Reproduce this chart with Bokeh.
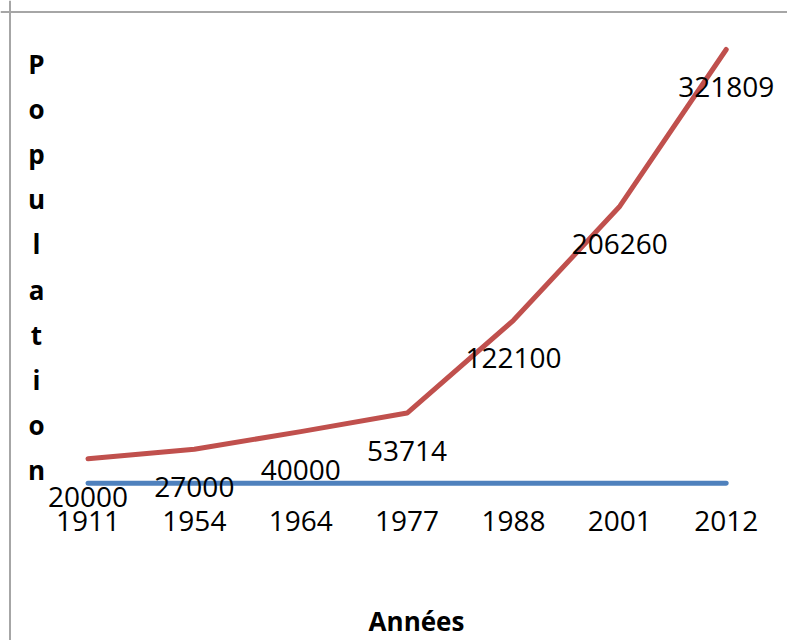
from bokeh.plotting import figure
from bokeh.models import Range1d, Span, ColumnDataSource
from bokeh.core.properties import value
from bokeh.embed import file_html
from bokeh.resources import INLINE

# ---- data ----
years = ["1911", "1954", "1964", "1977", "1988", "2001", "2012"]
year_values = [1911, 1954, 1964, 1977, 1988, 2001, 2012]
population = [20000, 27000, 40000, 53714, 122100, 206260, 321809]
x_title = "Années"
y_title = "Population"

# ---- layout helpers (pixel -> data) ----
W, H = 787, 640
X0_PX, STEP = 87.5, 106.37      # pixel of first category, px per category
Y0_PX, UPP = 485.4, 737.4       # pixel of value 0, data units per px

def px2x(px):
    return (px - X0_PX) / STEP

def py2y(py):
    return (Y0_PX - py) * UPP

p = figure(width=W, height=H, output_backend="svg", toolbar_location=None,
           x_axis_type=None, y_axis_type=None, min_border=0,
           x_range=Range1d(px2x(0), px2x(W)), y_range=Range1d(py2y(H), py2y(0)))
p.outline_line_color = None
p.xgrid.visible = False
p.ygrid.visible = False
p.background_fill_color = "white"
p.border_fill_color = "white"

# chart area border
p.add_layout(Span(location=px2x(9.5), dimension="height", line_color="#A6A6A6", line_width=2))
p.add_layout(Span(location=py2y(11.5), dimension="width", line_color="#A6A6A6", line_width=2))

idx = list(range(len(years)))
src = ColumnDataSource(dict(x=idx, years=years, yv=year_values, pop=population,
                            poplab=[str(v) for v in population], zero=[0] * len(years)))

# series
p.line("x", "yv", source=src, line_color="#4F81BD", line_width=5, line_cap="round", line_join="round")
p.line("x", "pop", source=src, line_color="#C0504D", line_width=5, line_cap="round", line_join="round")

FONT = value("Open Sans")
SHIFT = 12
# data labels
p.text("x", "pop", text="poplab", source=src, text_font=FONT, text_font_size="28px",
       text_color="black", text_align="center", text_baseline="alphabetic", y_offset=50 - SHIFT)
# category tick labels
p.text("x", "zero", text="years", source=src, text_font=FONT, text_font_size="28px",
       text_color="black", text_align="center", text_baseline="alphabetic", y_offset=47 - SHIFT)

# stacked y title
letters = list(y_title)
p.text(x=[px2x(36)] * len(letters), y=[py2y(75 - SHIFT + 45.2 * i) for i in range(len(letters))],
       text=letters, text_font=FONT, text_font_size="26px", text_font_style="bold",
       text_color="black", text_align="center", text_baseline="alphabetic")

# x title
p.text(x=[px2x(416)], y=[py2y(632 - SHIFT)], text=[x_title], text_font=FONT, text_font_size="26px",
       text_font_style="bold", text_color="black", text_align="center", text_baseline="alphabetic")

open("out.html", "w").write(file_html(p, INLINE))
